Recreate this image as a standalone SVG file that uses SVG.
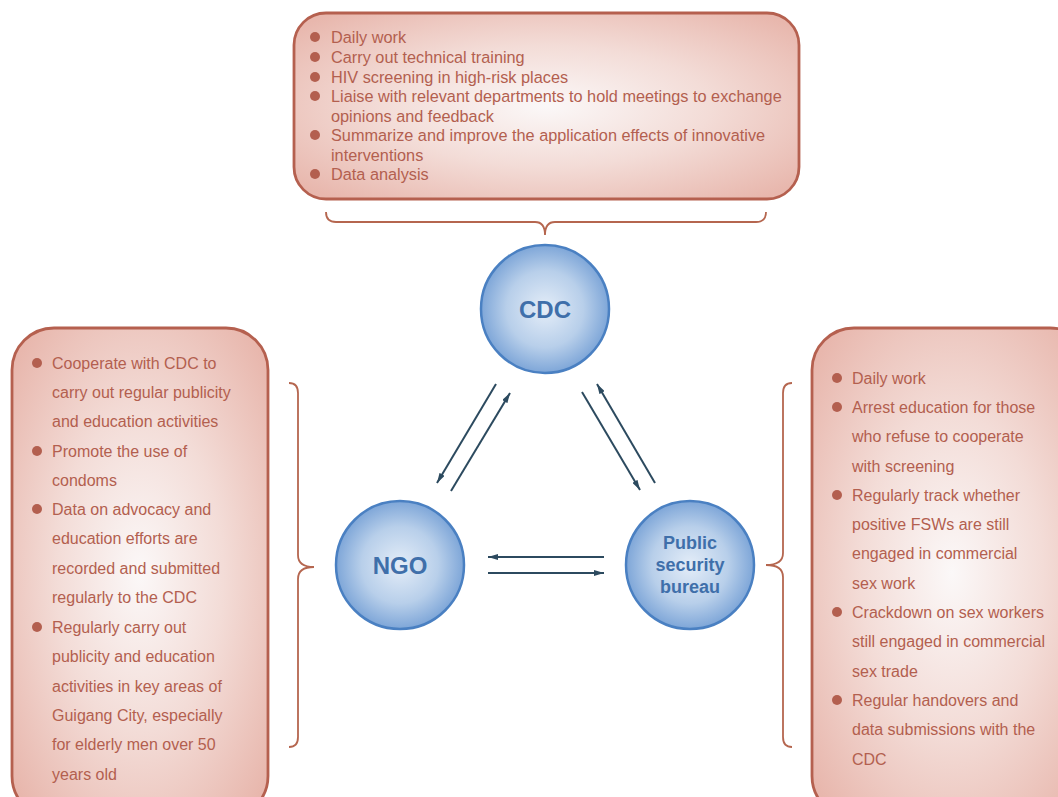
<svg xmlns="http://www.w3.org/2000/svg" width="1058" height="797" viewBox="0 0 1058 797">
<defs>
<radialGradient id="boxg" cx="0.5" cy="0.5" r="0.65">
<stop offset="0" stop-color="#fbf8f8"/>
<stop offset="0.5" stop-color="#f3dcd7"/>
<stop offset="1" stop-color="#e8b7ad"/>
</radialGradient>
<radialGradient id="circg" cx="0.5" cy="0.5" r="0.5">
<stop offset="0" stop-color="#e4edf8"/>
<stop offset="0.6" stop-color="#b8cfea"/>
<stop offset="1" stop-color="#7ea6d8"/>
</radialGradient>
<marker id="ah" viewBox="0 0 10 6" refX="10" refY="3" markerWidth="10" markerHeight="6" markerUnits="userSpaceOnUse" orient="auto">
<path d="M0,0 L10,3 L0,6 z" fill="#2c4a5f"/>
</marker>
<style>
.box{fill:url(#boxg);stroke:#b5604f;stroke-width:2.8}
.t{font-family:"Liberation Sans",Arial,sans-serif;font-size:16px;fill:#b35f4f}
.tt{font-size:16.3px}
.b{fill:#b35f4f}
.brace{fill:none;stroke:#b5664f;stroke-width:1.8}
.circ{fill:url(#circg);stroke:#4a80c2;stroke-width:2.5}
.ct{font-family:"Liberation Sans",Arial,sans-serif;font-weight:bold;fill:#3f6faa;text-anchor:middle}
.arr{stroke:#2c4a5f;stroke-width:2;fill:none;marker-end:url(#ah)}
</style>
</defs>

<g id="cdc-box">
<rect class="box" x="294" y="13" width="505" height="186" rx="32"/>
<g class="t tt">
<text x="331" y="43">Daily work</text>
<text x="331" y="63">Carry out technical training</text>
<text x="331" y="83">HIV screening in high-risk places</text>
<text x="331" y="102">Liaise with relevant departments to hold meetings to exchange</text>
<text x="331" y="122">opinions and feedback</text>
<text x="331" y="141">Summarize and improve the application effects of innovative</text>
<text x="331" y="161">interventions</text>
<text x="331" y="180">Data analysis</text>
</g>
<g class="b">
<circle cx="315" cy="37" r="5"/>
<circle cx="315" cy="57" r="5"/>
<circle cx="315" cy="77" r="5"/>
<circle cx="315" cy="96" r="5"/>
<circle cx="315" cy="135" r="5"/>
<circle cx="315" cy="174" r="5"/>
</g>
<path class="brace" d="M326,212 Q326,222 336,222 L535,222 Q545,222 545,235 Q545,222 555,222 L756,222 Q766,222 766,212"/>
</g>

<g id="ngo-box">
<rect class="box" x="12" y="328" width="256" height="490" rx="42"/>
<g class="t">
<text x="52" y="369">Cooperate with CDC to</text>
<text x="52" y="398">carry out regular publicity</text>
<text x="52" y="427">and education activities</text>
<text x="52" y="457">Promote the use of</text>
<text x="52" y="486">condoms</text>
<text x="52" y="515">Data on advocacy and</text>
<text x="52" y="544">education efforts are</text>
<text x="52" y="574">recorded and submitted</text>
<text x="52" y="603">regularly to the CDC</text>
<text x="52" y="633">Regularly carry out</text>
<text x="52" y="662">publicity and education</text>
<text x="52" y="692">activities in key areas of</text>
<text x="52" y="721">Guigang City, especially</text>
<text x="52" y="750">for elderly men over 50</text>
<text x="52" y="780">years old</text>
</g>
<g class="b">
<circle cx="37" cy="363" r="5"/>
<circle cx="37" cy="451" r="5"/>
<circle cx="37" cy="509" r="5"/>
<circle cx="37" cy="627" r="5"/>
</g>
<path class="brace" d="M289,383 Q298,383 298,393 L298,555 Q298,567 314,567 Q298,567 298,579 L298,737 Q298,747 289,747"/>
</g>

<g id="psb-box">
<rect class="box" x="812" y="328" width="280" height="490" rx="42"/>
<g class="t">
<text x="852" y="384">Daily work</text>
<text x="852" y="413">Arrest education for those</text>
<text x="852" y="442">who refuse to cooperate</text>
<text x="852" y="472">with screening</text>
<text x="852" y="501">Regularly track whether</text>
<text x="852" y="530">positive FSWs are still</text>
<text x="852" y="559">engaged in commercial</text>
<text x="852" y="589">sex work</text>
<text x="852" y="618">Crackdown on sex workers</text>
<text x="852" y="647">still engaged in commercial</text>
<text x="852" y="677">sex trade</text>
<text x="852" y="706">Regular handovers and</text>
<text x="852" y="735">data submissions with the</text>
<text x="852" y="765">CDC</text>
</g>
<g class="b">
<circle cx="837" cy="378" r="5"/>
<circle cx="837" cy="407" r="5"/>
<circle cx="837" cy="495" r="5"/>
<circle cx="837" cy="612" r="5"/>
<circle cx="837" cy="700" r="5"/>
</g>
<path class="brace" d="M792,383 Q783,383 783,393 L783,553 Q783,565 766,565 Q783,565 783,577 L783,737 Q783,747 792,747"/>
</g>

<g id="cdc">
<circle class="circ" cx="545" cy="309" r="64"/>
<text class="ct" x="545" y="318" font-size="24">CDC</text>
</g>
<g id="ngo">
<circle class="circ" cx="400" cy="565" r="64"/>
<text class="ct" x="400" y="574" font-size="24">NGO</text>
</g>
<g id="psb">
<circle class="circ" cx="690" cy="565" r="64"/>
<text class="ct" x="690" y="549" font-size="18">Public</text>
<text class="ct" x="690" y="571" font-size="18">security</text>
<text class="ct" x="690" y="593" font-size="18">bureau</text>
</g>

<g id="connectors">
<line class="arr" x1="496" y1="384" x2="437" y2="483"/>
<line class="arr" x1="451" y1="491" x2="510" y2="393"/>
<line class="arr" x1="582" y1="392" x2="640" y2="490"/>
<line class="arr" x1="655" y1="483" x2="597" y2="384"/>
<line class="arr" x1="604" y1="557" x2="488" y2="557"/>
<line class="arr" x1="488" y1="573" x2="604" y2="573"/>
</g>
</svg>
